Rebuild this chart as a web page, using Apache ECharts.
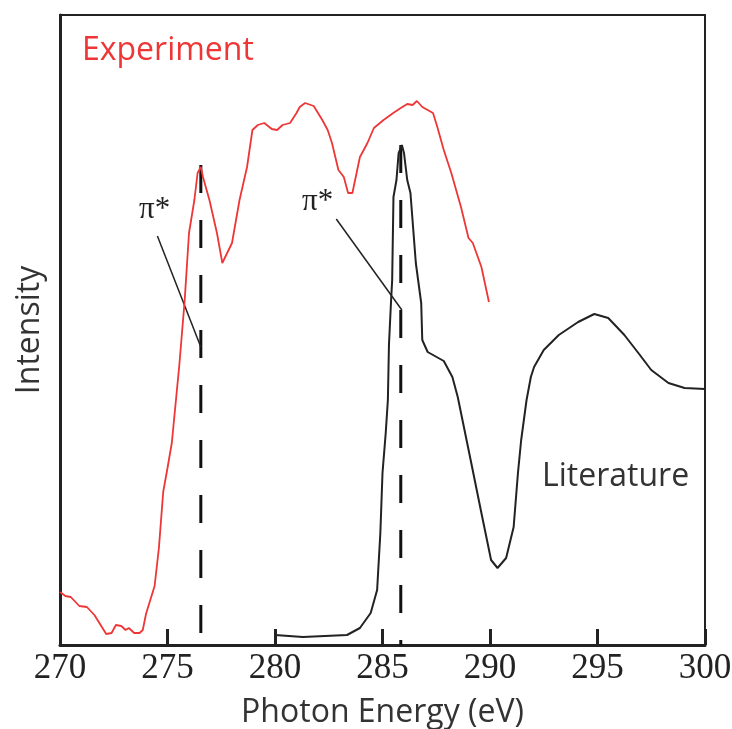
<!DOCTYPE html>
<html>
<head>
<meta charset="utf-8">
<title>Photon Energy</title>
<script src="https://cdn.jsdelivr.net/npm/echarts@6/dist/echarts.min.js"></script>
<style>
  html, body { margin: 0; padding: 0; background: #fff; }
  #chart { width: 732px; height: 729px; }
</style>
</head>
<body>
<div id="chart"></div>
<script>
// Experiment (red) spectrum, arbitrary intensity units
const expEnergy = [270.0, 270.25, 270.5, 270.9, 271.25, 271.6, 272.15, 272.4, 272.6, 272.85, 273.05, 273.2, 273.45, 273.7, 273.85, 274.0, 274.4, 274.6, 274.8, 275.0, 275.2, 275.55, 275.8, 276.0, 276.25, 276.4, 276.55, 276.65, 276.95, 277.3, 277.55, 278.0, 278.35, 278.7, 278.95, 279.2, 279.5, 279.85, 280.1, 280.35, 280.7, 281.0, 281.15, 281.4, 281.8, 282.2, 282.45, 282.65, 282.95, 283.2, 283.4, 283.6, 283.95, 284.3, 284.6, 285.05, 285.5, 285.85, 286.15, 286.4, 286.6, 286.85, 287.1, 287.35, 287.55, 287.85, 288.2, 288.65, 289.0, 289.2, 289.6, 289.95];
const expIntensity = [53, 49, 48, 39, 38, 30, 11, 12, 20, 19, 15, 17, 12, 12, 15, 31, 59, 97, 153, 177, 202, 280, 345, 412, 445, 472, 478, 468, 445, 412, 382, 402, 445, 478, 515, 520, 522, 516, 515, 520, 522, 532, 538, 542, 539, 525, 515, 502, 475, 468, 452, 452, 488, 502, 517, 525, 532, 537, 541, 540, 544, 538, 535, 532, 518, 495, 472, 438, 407, 402, 378, 343];

// Literature (black) spectrum
const litEnergy = [280.0, 281.3, 283.35, 283.95, 284.45, 284.75, 284.9, 285.0, 285.15, 285.25, 285.3, 285.4, 285.45, 285.51, 285.65, 285.75, 285.9, 286.0, 286.15, 286.3, 286.55, 286.8, 286.85, 287.1, 287.85, 288.25, 288.5, 289.1, 289.6, 290.05, 290.35, 290.75, 291.1, 291.3, 291.45, 291.7, 291.9, 292.05, 292.5, 293.2, 294.1, 294.85, 295.5, 296.25, 296.9, 297.5, 298.3, 299.05, 300.0];
const litIntensity = [10, 8, 10, 17, 32, 55, 112, 172, 212, 245, 300, 345, 365, 448, 465, 492, 500, 492, 465, 452, 382, 342, 305, 293, 284, 268, 248, 185, 132, 85, 77, 87, 118, 172, 205, 245, 268, 278, 295, 310, 323, 331, 327, 310, 292, 275, 262, 257, 256];

// pi* markers: dashed verticals and pointer lines
const piPeakEnergy = [276.55, 285.85];
const piPeakTop = [480, 500];
const pointerFrom = [[274.53, 409], [282.85, 426]];
const pointerTo = [[276.55, 298], [285.9, 335]];

const xTickMin = 270, xTickMax = 300, xTickStep = 5;

const chart = echarts.init(document.getElementById('chart'));

const series = [
  {
    name: 'Experiment',
    type: 'line',
    data: expEnergy.map((e, i) => [e, expIntensity[i]]),
    symbol: 'none',
    lineStyle: { color: '#ee3636', width: 1.8 },
    z: 3
  },
  {
    name: 'Literature',
    type: 'line',
    data: litEnergy.map((e, i) => [e, litIntensity[i]]),
    symbol: 'none',
    lineStyle: { color: '#222', width: 2 },
    z: 3
  }
];

piPeakEnergy.forEach((e, i) => {
  series.push({
    type: 'line',
    data: [[e, piPeakTop[i]], [e, 0]],
    symbol: 'none',
    lineStyle: { color: '#111', width: 3, type: [28, 27] },
    z: 2
  });
  series.push({
    type: 'line',
    data: [pointerFrom[i], pointerTo[i]],
    symbol: 'none',
    lineStyle: { color: '#222', width: 1.5 },
    z: 2
  });
});

const option = {
  animation: false,
  grid: {
    left: 60, right: 27, top: 15, bottom: 84,
    outerBoundsMode: 'none',
    show: true, borderColor: '#222', borderWidth: 2
  },
  xAxis: {
    type: 'value',
    min: xTickMin,
    max: xTickMax,
    interval: xTickStep,
    name: 'Photon Energy (eV)',
    nameLocation: 'middle',
    nameGap: 52,
    nameTextStyle: { fontFamily: 'Open Sans', fontSize: 32, color: '#333' },
    axisLine: { lineStyle: { color: '#222', width: 3 } },
    axisTick: { inside: true, length: 16, lineStyle: { color: '#222', width: 3 } },
    axisLabel: {
      margin: 6,
      fontFamily: 'Liberation Serif',
      fontSize: 35,
      color: '#222',
      showMinLabel: true,
      showMaxLabel: true
    },
    splitLine: { show: false }
  },
  yAxis: {
    type: 'value',
    min: 0,
    max: 630,
    name: 'Intensity',
    nameLocation: 'middle',
    nameGap: 14,
    nameTextStyle: { fontFamily: 'Open Sans', fontSize: 32, color: '#333' },
    axisLine: { show: true, lineStyle: { color: '#222', width: 3 } },
    axisTick: { show: false },
    axisLabel: { show: false },
    splitLine: { show: false }
  },
  graphic: [
    { type: 'text', x: 82, y: 51, style: { text: 'Experiment', font: '32px "Open Sans"', fill: '#ee3636', textVerticalAlign: 'middle' } },
    { type: 'text', x: 542, y: 477, style: { text: 'Literature', font: '32px "Open Sans"', fill: '#333', textVerticalAlign: 'middle' } },
    { type: 'text', x: 139, y: 210, style: { text: 'π*', font: '31px "Liberation Serif"', fill: '#222', textVerticalAlign: 'middle' } },
    { type: 'text', x: 302, y: 202, style: { text: 'π*', font: '31px "Liberation Serif"', fill: '#222', textVerticalAlign: 'middle' } }
  ],
  series: series
};

chart.setOption(option);
window.addEventListener('resize', function () {
  chart.resize();
});
</script>
</body>
</html>
